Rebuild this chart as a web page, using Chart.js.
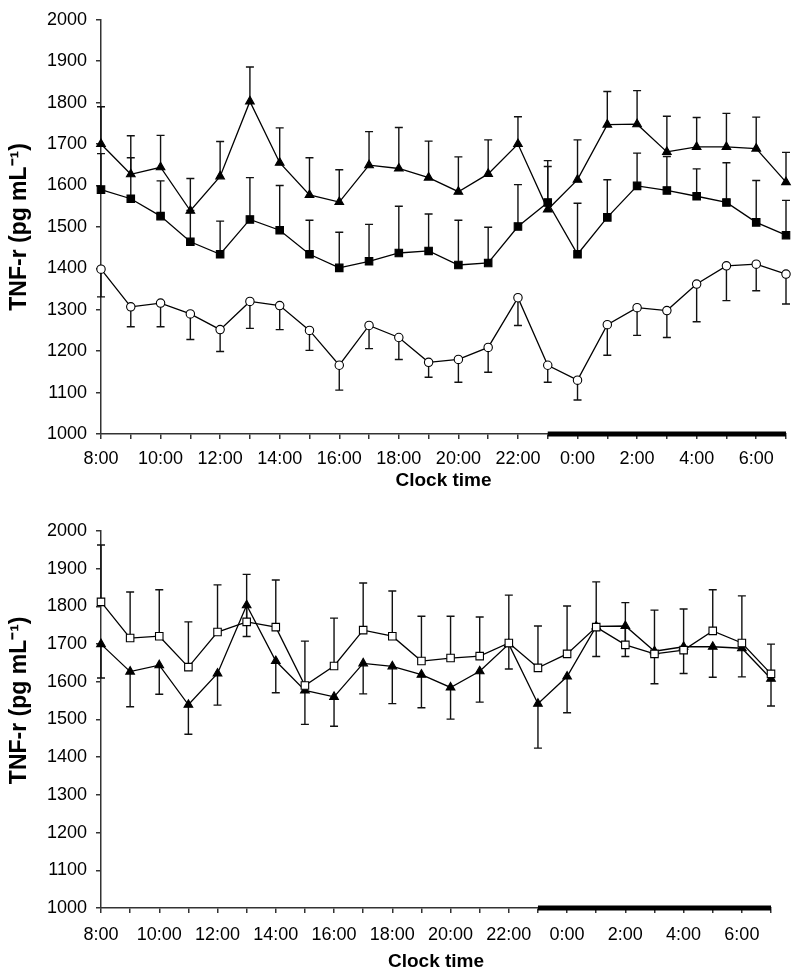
<!DOCTYPE html>
<html><head><meta charset="utf-8">
<script src="https://cdn.jsdelivr.net/npm/chart.js@4.4.1/dist/chart.umd.min.js"></script>
<style>
html,body{margin:0;padding:0;background:#fff;}
#wrap{position:relative;width:800px;height:979px;overflow:hidden;}
canvas{position:absolute;left:0;}
#c1{top:0}
#c2{top:500px}
</style></head><body>
<div id="wrap"><canvas id="c1" width="800" height="500"></canvas><canvas id="c2" width="800" height="479"></canvas></div>
<script>
// ---- data ----
const hours = ['8:00','9:00','10:00','11:00','12:00','13:00','14:00','15:00','16:00','17:00','18:00','19:00','20:00','21:00','22:00','23:00','0:00','1:00','2:00','3:00','4:00','5:00','6:00','7:00'];
const darkHours = ['23:00','0:00','1:00','2:00','3:00','4:00','5:00','6:00','7:00'];
const yTicks = [1000,1100,1200,1300,1400,1500,1600,1700,1800,1900,2000];

const triMean = [1700,1627,1644,1539,1622,1803,1655,1577,1560,1649,1641,1619,1585,1628,1700,1542,1614,1747,1748,1681,1693,1693,1689,1608];
const triSD   = [90,93,77,78,84,83,84,90,78,81,99,88,84,82,66,118,96,80,81,86,71,81,76,72];

const sqMean  = [1590,1568,1526,1464,1434,1518,1492,1434,1401,1417,1437,1442,1408,1413,1501,1559,1434,1523,1599,1588,1574,1559,1511,1480];
const sqSD    = [87,99,85,76,80,101,108,82,86,89,113,89,108,86,101,87,123,91,79,82,66,96,101,84];

const circMean = [1398,1307,1316,1290,1252,1320,1310,1250,1166,1262,1233,1173,1180,1209,1329,1166,1130,1264,1305,1298,1362,1406,1410,1386];
const circSD   = [67,48,57,62,53,65,58,48,60,56,53,36,55,60,67,41,48,74,67,65,91,84,64,72];

const openSqMean = [1812,1716,1721,1639,1732,1759,1745,1590,1642,1737,1721,1655,1663,1668,1703,1637,1674,1745,1698,1674,1684,1735,1703,1621];
const openSqSD   = [151,122,123,120,125,126,125,118,127,125,120,119,111,104,127,111,127,120,112,116,109,109,125,79];

const yTitle = 'TNF-r (pg mL\u207B\u00B9)';
const xTitle = 'Clock time';

// ---- rendering ----
const FONT = "'Liberation Sans', Arial, Helvetica, sans-serif";
Chart.defaults.color = '#000';
Chart.defaults.font.family = FONT;

const errorBars = {
  id: 'errorBars',
  beforeDatasetsDraw(chart) {
    const ctx = chart.ctx, ys = chart.scales.y;
    ctx.save();
    ctx.strokeStyle = '#111';
    ctx.lineWidth = 1.4;
    chart.data.datasets.forEach((ds, di) => {
      if (!ds.errors) return;
      const meta = chart.getDatasetMeta(di);
      meta.data.forEach((pt, i) => {
        const v = ds.data[i], e = ds.errors[i];
        if (v == null || e == null) return;
        const end = ds.errorDir === 'down' ? v - e : v + e;
        const y0 = ys.getPixelForValue(v), y1 = ys.getPixelForValue(end);
        const x = pt.x;
        ctx.beginPath();
        ctx.moveTo(x, y0); ctx.lineTo(x, y1);
        ctx.moveTo(x - 4, y1); ctx.lineTo(x + 4, y1);
        ctx.stroke();
      });
    });
    ctx.restore();
  }
};

function lineDs(data, style, fill, radius, errors, dir) {
  return {
    data, errors, errorDir: dir,
    borderColor: '#000', borderWidth: 1.3, tension: 0,
    pointStyle: style, pointRadius: radius, pointHoverRadius: radius,
    pointBackgroundColor: fill, pointBorderColor: '#000', pointBorderWidth: 1.1,
    clip: false
  };
}
function darkDs() {
  return {
    data: hours.map(h => darkHours.includes(h) ? yTicks[0] : null),
    borderColor: '#000', borderWidth: 5, pointRadius: 0, pointHoverRadius: 0,
    borderCapStyle: 'butt', clip: false, spanGaps: false
  };
}

function makePanel(id, datasets, g) {
  const axisCol = '#333';
  new Chart(document.getElementById(id), {
    type: 'line',
    data: { labels: hours, datasets },
    plugins: [errorBars],
    options: {
      responsive: false, animation: false, events: [],
      layout: { padding: { left: 0, right: g.right, top: g.top, bottom: g.canvasH - g.plotBottom - g.xH } },
      plugins: { legend: { display: false }, tooltip: { enabled: false } },
      scales: {
        x: {
          type: 'category', offset: false,
          afterFit: s => { s.height = g.xH; },
          ticks: { autoSkip: false, maxRotation: 0, minRotation: 0, padding: g.xPad,
                   callback: (v, i) => (i % 2 === 0 ? hours[i] : ''),
                   font: { size: 18, family: FONT }, color: '#000' },
          grid: { drawOnChartArea: false, drawTicks: true, tickLength: 5, color: axisCol, lineWidth: 1.5 },
          border: { display: true, color: axisCol, width: 1.5 },
          title: { display: true, text: xTitle, color: '#000', padding: { top: 0, bottom: 0 },
                   font: { size: 19, weight: 'bold', family: FONT } }
        },
        y: {
          min: yTicks[0], max: yTicks[yTicks.length - 1],
          afterBuildTicks: s => { s.ticks = yTicks.map(v => ({ value: v })); },
          afterFit: s => { s.width = g.left; },
          ticks: { callback: v => String(v), padding: 9, font: { size: 18, family: FONT }, color: '#000' },
          grid: { drawOnChartArea: false, drawTicks: true, tickLength: 5, color: axisCol, lineWidth: 1.5 },
          border: { display: true, color: axisCol, width: 1.5 },
          title: { display: true, text: g.yTitleText, color: '#000', padding: { top: 6, bottom: 0 },
                   font: { size: 23, weight: 'bold', family: FONT } }
        }
      }
    }
  });
}

makePanel('c1', [
  lineDs(triMean, 'triangle', '#000', 5, triSD, 'up'),
  lineDs(sqMean, 'rect', '#000', 5.3, sqSD, 'up'),
  lineDs(circMean, 'circle', '#fff', 4.2, circSD, 'down'),
  darkDs()
], { left: 101, right: 14, top: 18, plotBottom: 434, canvasH: 500, xH: 58.4, xPad: 9.5, yTitleText: yTitle });

makePanel('c2', [
  lineDs(openSqMean, 'rect', '#fff', 5.3, openSqSD, 'up'),
  lineDs(triMean, 'triangle', '#000', 5, triSD, 'down'),
  darkDs()
], { left: 101, right: 29, top: 31, plotBottom: 408, canvasH: 479, xH: 65.4, xPad: 11.5, yTitleText: '      ' + yTitle });
</script>
</body></html>
